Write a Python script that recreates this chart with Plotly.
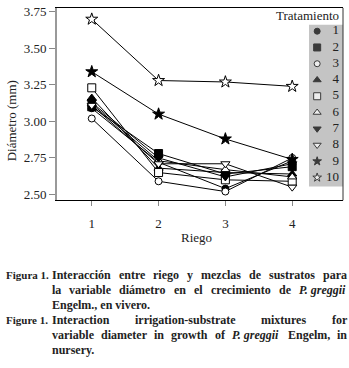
import plotly.graph_objects as go

W, H = 349, 368

riego = [1, 2, 3, 4]
tratamientos = ["1", "2", "3", "4", "5", "6", "7", "8", "9", "10"]
t1 = [3.09, 2.72, 2.54, 2.73]
t2 = [3.10, 2.78, 2.64, 2.69]
t3 = [3.02, 2.59, 2.52, 2.75]
t4 = [3.16, 2.68, 2.65, 2.64]
t5 = [3.23, 2.65, 2.60, 2.59]
t6 = [3.12, 2.73, 2.67, 2.62]
t7 = [3.13, 2.75, 2.62, 2.71]
t8 = [3.11, 2.71, 2.71, 2.55]
t9 = [3.34, 3.05, 2.88, 2.74]
t10 = [3.70, 3.28, 3.27, 3.24]
series = [t1, t2, t3, t4, t5, t6, t7, t8, t9, t10]

y_ticks = [2.50, 2.75, 3.00, 3.25, 3.50, 3.75]
y_ticklabels = ["2.50", "2.75", "3.00", "3.25", "3.50", "3.75"]

symbols = ["circle", "square", "circle", "triangle-up", "square",
           "triangle-up", "triangle-down", "triangle-down", "star", "star"]
filled = [True, True, False, True, False, False, True, False, True, False]
sizes = [7, 8, 7, 8, 8, 8, 8, 8, 9, 9]
legend_sizes = [6, 7, 6, 7, 7, 7, 7, 7, 6.5, 6.5]

SERIF = "Liberation Serif"


def px(x):
    return x / W


def py(y):
    return 1 - y / H


fig = go.Figure()

for name, vals, sym, fil, sz in zip(tratamientos, series, symbols, filled, sizes):
    fig.add_trace(go.Scatter(
        x=riego, y=vals, mode="lines+markers", name=name,
        line=dict(color="black", width=1),
        marker=dict(symbol=sym, size=sz, color="black" if fil else "white",
                    line=dict(color="black", width=1)),
        showlegend=False, xaxis="x", yaxis="y",
    ))

# inset legend
leg_pos = list(range(1, len(tratamientos) + 1))
fig.add_trace(go.Scatter(
    x=[0.24] * len(tratamientos), y=leg_pos, mode="markers",
    marker=dict(symbol=symbols, size=legend_sizes,
                color=["black" if f else "white" for f in filled],
                line=dict(color="black", width=1)),
    showlegend=False, xaxis="x2", yaxis="y2", hoverinfo="skip",
))
fig.add_trace(go.Scatter(
    x=[0.88] * len(tratamientos), y=leg_pos, mode="text", text=tratamientos,
    textposition="middle left",
    textfont=dict(family=SERIF, size=13, color="#222"),
    showlegend=False, xaxis="x2", yaxis="y2", hoverinfo="skip",
))

fig.update_layout(
    width=W, height=H,
    margin=dict(l=0, r=0, t=0, b=0),
    paper_bgcolor="white", plot_bgcolor="rgba(0,0,0,0)",
    font=dict(family=SERIF, size=13, color="#222"),
    xaxis=dict(domain=[px(57), px(343)], range=[0.48, 4.76],
               tickvals=riego, ticktext=[str(r) for r in riego],
               ticks="outside", ticklen=5, tickcolor="#888",
               ticklabelstandoff=6,
               showline=True, linecolor="black", linewidth=1, mirror=True,
               showgrid=False, zeroline=False, anchor="y"),
    yaxis=dict(domain=[py(200), py(5)], range=[2.46, 3.777],
               tickvals=y_ticks, ticktext=y_ticklabels,
               ticks="outside", ticklen=6, tickcolor="#888",
               showline=True, linecolor="#999", linewidth=2, mirror=False,
               showgrid=False, zeroline=False, anchor="x"),
    xaxis2=dict(domain=[px(309), px(343)], range=[0, 1], visible=False,
                anchor="y2"),
    yaxis2=dict(domain=[py(186), py(22)], range=[10.55, 0.6], visible=False,
                anchor="x2"),
    shapes=[
        dict(type="rect", xref="paper", yref="paper",
             x0=px(309), x1=px(343), y0=py(186), y1=py(22),
             fillcolor="#c4c4c4", line=dict(width=0), layer="below"),
        dict(type="line", xref="x domain", yref="y domain",
             x0=1, x1=1, y0=0, y1=1, line=dict(color="#333", width=1)),
    ],
)

ann = []


def add(text, x, y, size=12, xanchor="left", **kw):
    ann.append(dict(text=text, x=px(x), y=py(y), xref="paper", yref="paper",
                    xanchor=xanchor, yanchor="middle", showarrow=False,
                    font=dict(family=SERIF, size=size, color="#222"), **kw))


add("Tratamiento", 341, 13, size=13, xanchor="right")
add("Riego", 196, 238, size=13, xanchor="center")
add("Diámetro (mm)", 11, 120, size=13, xanchor="center", textangle=-90)

# --- caption, justified using Times-Bold character widths ---
BOLD = {" ": 250, "a": 500, "b": 556, "c": 444, "d": 556, "e": 444, "f": 333,
        "g": 500, "h": 556, "i": 278, "l": 278, "m": 833, "n": 556, "o": 500,
        "p": 556, "r": 444, "s": 389, "t": 333, "u": 556, "v": 500, "w": 722,
        "x": 500, "y": 500, "z": 444, "á": 500, "ó": 500, "E": 667, "I": 389,
        "P": 611, ".": 250, ",": 250, "-": 333}
BOLDIT = {" ": 250, "P": 611, ".": 250, "g": 500, "r": 389, "e": 444, "i": 278}
CAP = 12


def width(word, italic):
    table = BOLDIT if italic else BOLD
    return sum(table.get(ch, 500) for ch in word) * CAP / 1000


def justify(tokens, y, x0=50, x1=345):
    total = sum(width(w, it) for w, it in tokens)
    gap = (x1 - x0 - total) / (len(tokens) - 1)
    x = x0
    for w, it in tokens:
        txt = f"<b><i>{w}</i></b>" if it else f"<b>{w}</b>"
        add(txt, x, y, size=CAP)
        x += width(w, it) + gap


def words(s):
    return [(w, False) for w in s.split()]


add("<b>Figura 1.</b>", 4, 276, size=11)
justify(words("Interacción entre riego y mezclas de sustratos para"), 276)
justify(words("la variable diámetro en el crecimiento de") + [("P. greggii", True)], 291)
add("<b>Engelm., en vivero.</b>", 50, 306, size=CAP)
add("<b>Figure 1.</b>", 4, 321, size=11)
justify(words("Interaction irrigation-substrate mixtures for"), 321)
justify(words("variable diameter in growth of") + [("P. greggii", True)]
        + words("Engelm, in"), 337)
add("<b>nursery.</b>", 50, 352, size=CAP)

fig.update_layout(annotations=ann)

fig.write_html(
    "out.html",
    config={"displayModeBar": False},
    post_script="document.body.style.margin='0';document.body.style.overflow='hidden';",
)
